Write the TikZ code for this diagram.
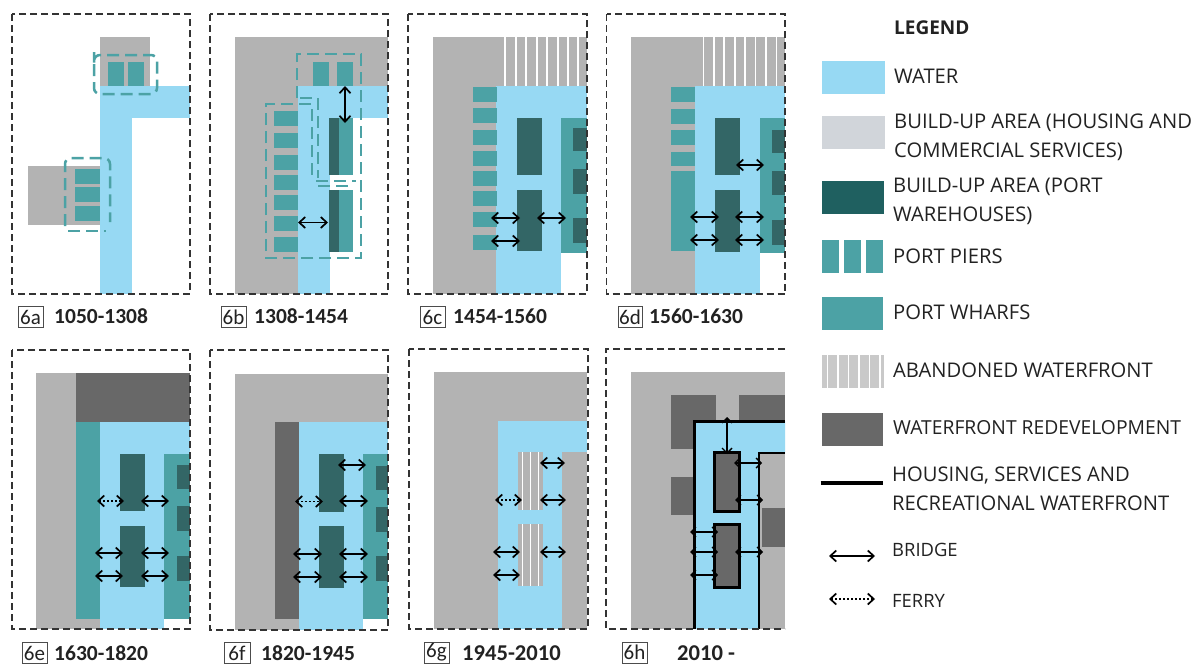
\documentclass[tikz,border=0pt]{standalone}
\usepackage{fontspec}
\setmainfont{Open Sans}
\newfontfamily\capfont{Carlito}
\usetikzlibrary{arrows.meta}
\definecolor{waterc}{HTML}{97D9F3}
\definecolor{grayc}{HTML}{B3B3B3}
\definecolor{wharfc}{HTML}{4CA2A5}
\definecolor{darkc}{HTML}{336666}
\definecolor{redevc}{HTML}{686868}
\definecolor{framec}{HTML}{333333}
\definecolor{textc}{HTML}{222222}
\definecolor{builtc}{HTML}{D1D5DA}
\definecolor{wareleg}{HTML}{1F6060}
\definecolor{abanc}{HTML}{C9C9C9}
\tikzset{
  x=1pt,y=-1pt,
  framebox/.style={draw=framec,line width=1.3pt,dash pattern=on 7pt off 4pt},
  tealdash/.style={draw=wharfc,line width=2.5pt,dash pattern=on 12pt off 6pt},
  bridge/.style={draw=black,line width=1.7pt,{Straight Barb[length=6pt,width=11pt,line width=1.7pt]}-{Straight Barb[length=6pt,width=11pt,line width=1.7pt]}},
  thinbridge/.style={draw=black,line width=1.1pt,{Straight Barb[length=5pt,width=10pt,line width=1.4pt]}-{Straight Barb[length=5pt,width=10pt,line width=1.4pt]}},
  ferry/.style={draw=black,line width=1.7pt,dash pattern=on 1.7pt off 2.3pt,{Straight Barb[length=6pt,width=11pt,line width=1.7pt,sep=0pt]}-{Straight Barb[length=6pt,width=11pt,line width=1.7pt]}},
  legtext/.style={anchor=base west,inner sep=0pt,text=textc,font=\fontsize{20.2}{20.2}\selectfont},
  smalltext/.style={legtext,font=\fontsize{18.4}{18.4}\selectfont},
  yeartext/.style={anchor=base west,inner sep=0pt,text=textc,font=\capfont\bfseries\fontsize{21.5}{21.5}\selectfont},
  bigyear/.style={yeartext,font=\capfont\bfseries\fontsize{22.6}{22.6}\selectfont},
  tagbox/.style={draw=black!70,line width=.7pt,inner sep=0pt,minimum height=21pt,text=textc,font=\capfont\fontsize{21}{21}\selectfont,anchor=center},
  hsw/.style={draw=black,line width=3pt,line join=miter}
}
\newcommand{\blk}[5]{\fill[#1] (#2,#3) rectangle (#4,#5);}
\newcommand{\brg}[3]{\draw[bridge] (#1,#3) -- (#2,#3);}
\newcommand{\tbrg}[3]{\draw[thinbridge] (#1,#3) -- (#2,#3);}
\newcommand{\fry}[3]{\draw[ferry] (#1,#3) -- (#2,#3);}
\begin{document}
\begin{tikzpicture}
\useasboundingbox (0,0) rectangle (1196,664);
\clip (0,0) rectangle (1196,664);
\fill[white] (0,0) rectangle (1196,664);

% ---- 6a
\blk{grayc}{100}{37}{150}{86}
\blk{grayc}{28}{166}{100}{225}
\blk{waterc}{100}{86}{190}{118}
\blk{waterc}{100}{86}{132}{294}
\blk{wharfc}{108}{62}{124}{86}
\blk{wharfc}{128}{62}{144}{86}
\foreach \a/\b in {169/184,187/202,206/221}{\blk{wharfc}{75}{\a}{100}{\b}}
\draw[tealdash,rounded corners=6pt] (94,58) -- (94,94) -- (157,94) -- (157,55) -- (94,55) -- cycle;
\draw[tealdash,rounded corners=6pt] (65,226) -- (65,158) -- (110,158) -- (110,222);
\draw[tealdash] (68,231) -- (106,231);
\draw[framebox] (12,14) rectangle (190,294);

% ---- 6b
\blk{grayc}{235}{37}{388}{86}
\blk{grayc}{235}{37}{298}{294}
\blk{waterc}{298}{86}{388}{118}
\blk{waterc}{298}{86}{330}{294}
\blk{wharfc}{313}{62}{329}{86}
\blk{wharfc}{337}{62}{353}{86}
\foreach \a/\b in {111/126,133/148,155/170,175/190,195/210,216/231,237/252}{\blk{wharfc}{274}{\a}{298}{\b}}
\blk{wharfc}{339}{118}{353}{175}
\blk{darkc}{329}{118}{339}{175}
\blk{wharfc}{339}{190}{353}{252}
\blk{darkc}{329}{190}{339}{252}
\draw[tealdash] (297,98) -- (297,54) -- (361,54) -- (361,258) -- (266,258) -- (266,104) -- (312,104) -- (312,178);
\draw[tealdash] (300,98) -- (318,98) -- (318,178);
\draw[tealdash] (316,181) -- (356,181);
\draw[tealdash] (318,186) -- (352,186);
\draw[bridge] (345,86) -- (345,123);
\brg{298}{328}{222.5}
\draw[framebox] (210,14) rectangle (388,294);

% ---- 6c
\blk{grayc}{433}{37}{587}{86}
\blk{grayc}{433}{37}{496}{294}
\foreach \v in {505,515.7,526,536.7,547,557.7,568,578}{\draw[white,line width=1.6pt] (\v,37) -- (\v,86);}
\blk{waterc}{496}{86}{587}{253}
\blk{waterc}{496}{86}{561}{294}
\foreach \a/\b in {87/102,108/123,130/145,151/166,171/186,191/206,212/227,235/250}{\blk{wharfc}{472.5}{\a}{497}{\b}}
\blk{darkc}{517}{117.5}{542}{175}
\blk{darkc}{517}{190}{542}{251}
\blk{wharfc}{561}{117.5}{587}{253}
\foreach \a/\b in {128/151,169/194,218/243}{\blk{darkc}{573}{\a}{587}{\b}}
\brg{491}{520}{218}
\brg{537}{566}{218}
\brg{491}{520}{241}
\draw[framebox] (408,14) rectangle (587,294);

% ---- 6d
\blk{grayc}{631}{37}{785}{86}
\blk{grayc}{631}{37}{695}{294}
\foreach \v in {703.3,713.7,724,734.7,745,755.3,766,776.3}{\draw[white,line width=1.6pt] (\v,37) -- (\v,86);}
\blk{waterc}{695}{86}{785}{253}
\blk{waterc}{695}{86}{760}{294}
\foreach \a/\b in {87/102,109/124,130/145,152/166,171/251}{\blk{wharfc}{670.5}{\a}{695}{\b}}
\blk{darkc}{715}{118}{740}{175}
\blk{darkc}{715}{190}{740}{252}
\blk{wharfc}{759.5}{118}{785}{253}
\foreach \a/\b in {130/153,171/195,220/245}{\blk{darkc}{772}{\a}{785}{\b}}
\brg{736}{764}{165}
\brg{690}{719}{217}
\brg{735}{764}{217}
\brg{690}{719}{240}
\brg{735}{764}{240}
\draw[framebox] (606.5,14) rectangle (785,294);

% ---- 6e
\blk{grayc}{36}{373}{100}{629}
\blk{redevc}{76}{373}{190}{422}
\blk{wharfc}{76}{422}{100}{619}
\blk{waterc}{100}{422}{190}{619}
\blk{waterc}{100}{422}{164}{629}
\blk{wharfc}{164}{453.5}{190}{619}
\foreach \a/\b in {465/489,506/531,556/581}{\blk{darkc}{177}{\a}{190}{\b}}
\blk{darkc}{120}{453.5}{144.5}{511}
\blk{darkc}{120}{526}{144.5}{587}
\fry{97}{124}{501}
\brg{141}{169}{501}
\brg{95}{123}{553}
\brg{141}{169}{553}
\brg{95}{123}{576}
\brg{141}{169}{576}
\draw[framebox] (12,350) rectangle (190,629);

% ---- 6f
\blk{grayc}{235}{373.5}{388}{422}
\blk{grayc}{235}{373.5}{299}{630}
\blk{redevc}{275}{422}{299}{619}
\blk{waterc}{299}{422}{388}{619}
\blk{waterc}{299}{422}{363}{630}
\blk{wharfc}{363}{454}{388}{619}
\foreach \a/\b in {466/490,507/532,556/581}{\blk{darkc}{376}{\a}{388}{\b}}
\blk{darkc}{319}{454}{343.5}{512}
\blk{darkc}{319}{526}{343.5}{588}
\brg{338}{366}{465}
\fry{295}{323}{501.5}
\brg{339}{368}{501}
\brg{293}{322}{554}
\brg{339}{368}{554}
\brg{293}{322}{577}
\brg{339}{368}{577}
\draw[framebox] (210,350) rectangle (388,630);

% ---- 6g
\blk{grayc}{434}{372}{587}{629}
\blk{waterc}{498}{421}{587}{452}
\blk{waterc}{498}{421}{562}{629}
\blk{grayc}{518}{452}{543}{510}
\blk{grayc}{518}{524}{543}{586}
\foreach \v in {522.3,530.3,538.3}{
  \draw[white,line width=1.3pt] (\v,452) -- (\v,510);
  \draw[white,line width=1.3pt] (\v,524) -- (\v,586);
}
\brg{540}{565}{463}
\fry{495}{522}{500}
\brg{540}{566}{500}
\brg{493}{520}{552}
\brg{540}{566}{552}
\brg{493}{520}{575}
\draw[framebox] (409,349) rectangle (588,629);

% ---- 6h
\blk{grayc}{631}{372}{785}{629}
\blk{redevc}{671}{395}{716}{449}
\blk{redevc}{739}{395}{785}{421}
\blk{redevc}{671}{477}{695}{515}
\blk{redevc}{762}{508}{785}{547}
\fill[waterc] (694.5,629) -- (694.5,421) -- (785,421) -- (785,453) -- (759,453) -- (759,629) -- cycle;
\draw[hsw] (694.5,629) -- (694.5,421) -- (785,421);
\draw[draw=black,line width=2.2pt] (785,453) -- (759,453) -- (759,629);
\draw[hsw,fill=redevc] (714.5,452) rectangle (739.5,511);
\draw[hsw,fill=redevc] (714.5,524) rectangle (739.5,587);
\draw[thinbridge] (727,417) -- (727,454);
\tbrg{734}{762}{463}
\tbrg{735}{763}{500}
\tbrg{735}{763}{552}
\tbrg{690}{718}{532}
\tbrg{690}{718}{552}
\tbrg{690}{718}{575}
\draw[framebox] (785,349) -- (606,349) -- (606,629) -- (785,629);

% ---- captions
\node[tagbox,minimum width=25pt] (t6a) at (30.5,317) {6a};
\node[yeartext] (y6a) at (54,323.5) {1050-1308};
\node[tagbox,minimum width=25pt] (t6b) at (233.5,317) {6b};
\node[yeartext] (y6b) at (254,323.5) {1308-1454};
\node[tagbox,minimum width=25pt] (t6c) at (432.5,317) {6c};
\node[yeartext] (y6c) at (453,323.5) {1454-1560};
\node[tagbox,minimum width=24pt] (t6d) at (630,317) {6d};
\node[yeartext] (y6d) at (649,323.5) {1560-1630};
\node[tagbox,minimum width=25pt] (t6e) at (34.5,653) {6e};
\node[yeartext] (y6e) at (54,660.5) {1630-1820};
\node[tagbox,minimum width=26pt] (t6f) at (237,653) {6f};
\node[yeartext] (y6f) at (261,660.5) {1820-1945};
\node[tagbox,minimum width=25pt] (t6g) at (436.5,652.5) {6g};
\node[bigyear] (y6g) at (462,660) {1945-2010};
\node[tagbox,minimum width=25pt] (t6h) at (634.5,652.5) {6h};
\node[bigyear] (y6h) at (677,660) {2010 -};

% ---- legend
\node[legtext,font=\bfseries\fontsize{19}{19}\selectfont] (lg) at (894,34) {LEGEND};
\blk{waterc}{822}{61}{885}{94}
\node[legtext] (l1) at (894,83.5) {WATER};
\blk{builtc}{822}{116}{885}{149}
\node[legtext] (l2a) at (894,128.3) {BUILD-UP AREA (HOUSING AND};
\node[legtext] (l2b) at (894,157.3) {COMMERCIAL SERVICES)};
\blk{wareleg}{821.5}{181}{884}{214}
\node[legtext] (l3a) at (893,192.7) {BUILD-UP AREA (PORT};
\node[legtext] (l3b) at (893,221.7) {WAREHOUSES)};
\blk{wharfc}{821.5}{240}{839}{273}
\blk{wharfc}{843.5}{240}{860.5}{273}
\blk{wharfc}{865.5}{240}{883}{273}
\node[legtext] (l4) at (893,263) {PORT PIERS};
\blk{wharfc}{821.5}{297}{883}{330}
\node[legtext] (l5) at (893,319.5) {PORT WHARFS};
\blk{abanc}{822}{355}{884}{388}
\foreach \v in {827.5,838,848.5,859,869.5,880}{\draw[white,line width=1.5pt] (\v,355) -- (\v,388);}
\node[legtext] (l6) at (893,377.3) {ABANDONED WATERFRONT};
\blk{redevc}{821.5}{413}{883}{446}
\node[legtext,font=\fontsize{19.3}{19.3}\selectfont] (l7) at (893,434) {WATERFRONT REDEVELOPMENT};
\draw[black,line width=3.5pt] (820.5,483) -- (883,483);
\node[legtext] (l8a) at (892,481.7) {HOUSING, SERVICES AND};
\node[legtext] (l8b) at (892,510) {RECREATIONAL WATERFRONT};
\coordinate (ba) at (829,556);
\coordinate (bb) at (875,556);
\draw[bridge,line width=1.2pt] (ba) -- (bb);
\node[smalltext] (l9) at (892,556.7) {BRIDGE};
\coordinate (fa) at (829,599);
\coordinate (fb) at (875,599);
\draw[ferry,line width=1.2pt] (fa) -- (fb);
\node[smalltext] (l10) at (892,607.7) {FERRY};
\end{tikzpicture}
\end{document}
